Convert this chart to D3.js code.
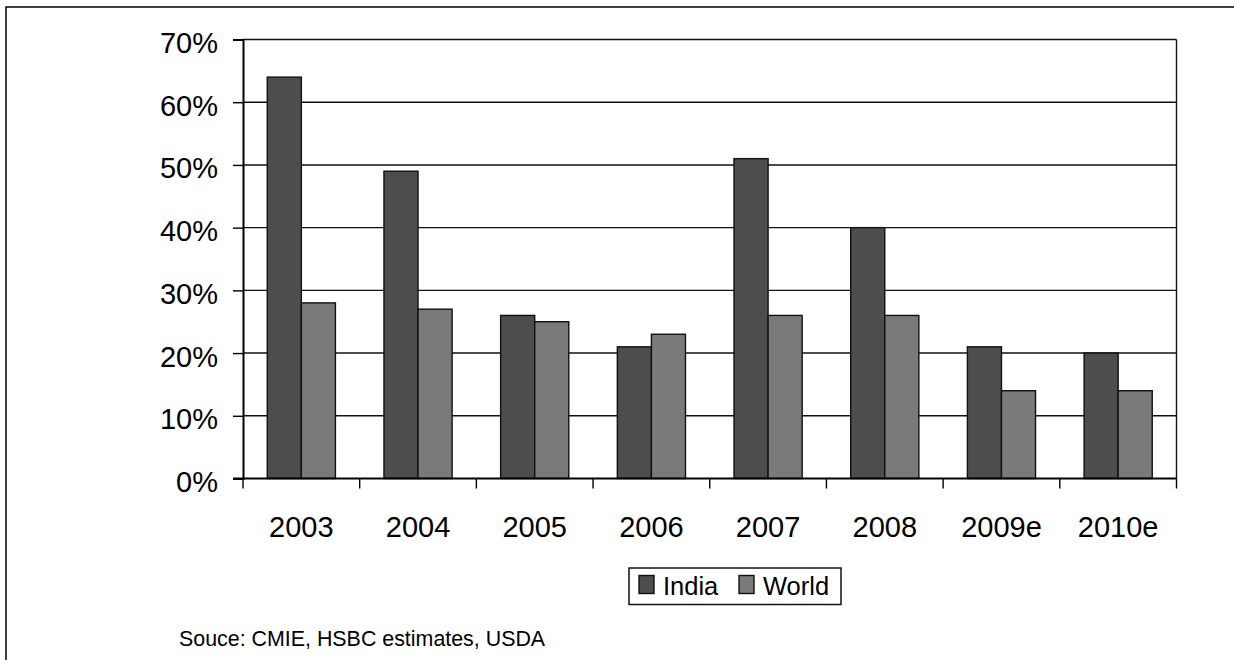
<!DOCTYPE html>
<html>
<head>
<meta charset="utf-8">
<script src="https://cdn.jsdelivr.net/npm/d3@7"></script>
<style>
  html, body { margin: 0; padding: 0; background: #fff; }
  svg { display: block; font-family: "Liberation Sans", Arial, sans-serif; }
</style>
</head>
<body>
<svg id="chart" width="1234" height="660"></svg>
<script>
// Growth figures (%) by year
const years = ["2003", "2004", "2005", "2006", "2007", "2008", "2009e", "2010e"];
const india = [64, 49, 26, 21, 51, 40, 21, 20];
const world = [28, 27, 25, 23, 26, 26, 14, 14];
const seriesNames = ["India", "World"];
const seriesColors = ["#4d4d4d", "#7a7a7a"];
const yTicks = [0, 10, 20, 30, 40, 50, 60, 70];
const sourceNote = "Souce: CMIE, HSBC estimates, USDA";

const svg = d3.select("#chart");

// outer frame
svg.append("rect")
  .attr("x", 6).attr("y", 7)
  .attr("width", 1300).attr("height", 700)
  .attr("fill", "none").attr("stroke", "#000").attr("stroke-width", 1.5);

const plot = { left: 243, right: 1176.5, top: 39.5, bottom: 478.5 };

const x0 = d3.scaleBand().domain(years).range([plot.left, plot.right]).padding(0);
const bw = x0.bandwidth();
const gap = bw * 0.208;
const x1 = d3.scaleBand().domain(seriesNames).range([gap, bw - gap]).padding(0);
const y = d3.scaleLinear().domain([0, 70]).range([plot.bottom, plot.top]);

// horizontal gridlines
svg.append("g").selectAll("line").data(yTicks.filter(d => d > 0)).join("line")
  .attr("x1", plot.left).attr("x2", plot.right)
  .attr("y1", d => y(d)).attr("y2", d => y(d))
  .attr("stroke", "#111").attr("stroke-width", 1.4);

// right edge of plot area
svg.append("line")
  .attr("x1", plot.right).attr("x2", plot.right)
  .attr("y1", plot.top).attr("y2", plot.bottom)
  .attr("stroke", "#111").attr("stroke-width", 1.4);

// bars
const rows = years.map((yr, i) => ({ year: yr, values: [india[i], world[i]] }));
const groups = svg.append("g").selectAll("g").data(rows).join("g")
  .attr("transform", d => `translate(${x0(d.year)},0)`);
groups.selectAll("rect")
  .data(d => d.values.map((v, j) => ({ name: seriesNames[j], value: v, color: seriesColors[j] })))
  .join("rect")
  .attr("x", d => x1(d.name))
  .attr("width", x1.bandwidth())
  .attr("y", d => y(d.value))
  .attr("height", d => y(0) - y(d.value))
  .attr("fill", d => d.color)
  .attr("stroke", "#111").attr("stroke-width", 1.4);

// y axis
const yAxis = d3.axisLeft(y).tickValues(yTicks).tickSize(10).tickPadding(15)
  .tickFormat(d => d + "%");
const gy = svg.append("g").attr("transform", `translate(${plot.left},0)`).call(yAxis);
gy.select(".domain").attr("stroke", "#000").attr("stroke-width", 2);
gy.selectAll(".tick line").attr("stroke", "#000").attr("stroke-width", 1.4);
gy.selectAll(".tick text")
  .attr("font-size", 29).attr("fill", "#000")
  .attr("font-family", "Liberation Sans, Arial, sans-serif")
  .attr("dy", "0.45em");

// x axis: ticks at category boundaries
const gx = svg.append("g").attr("transform", `translate(0,${plot.bottom})`);
gx.append("line")
  .attr("x1", plot.left - 10).attr("x2", plot.right)
  .attr("stroke", "#000").attr("stroke-width", 2);
const bounds = years.map(d => x0(d)).concat([plot.right]);
gx.selectAll(".bt").data(bounds).join("line").attr("class", "bt")
  .attr("x1", d => d).attr("x2", d => d)
  .attr("y1", 0).attr("y2", 10)
  .attr("stroke", "#000").attr("stroke-width", 1.4);
gx.selectAll("text").data(years).join("text")
  .attr("x", d => x0(d) + bw / 2)
  .attr("y", 58.5)
  .attr("text-anchor", "middle")
  .attr("font-size", 29).attr("fill", "#000")
  .text(d => d);

// legend
const lg = svg.append("g").attr("transform", "translate(629,568)");
lg.append("rect").attr("width", 212).attr("height", 36.5)
  .attr("fill", "#fff").attr("stroke", "#111").attr("stroke-width", 1.5);
const legendX = [10, 110];
seriesNames.forEach((name, i) => {
  lg.append("rect")
    .attr("x", legendX[i]).attr("y", 7.5)
    .attr("width", 15).attr("height", 18)
    .attr("fill", seriesColors[i]).attr("stroke", "#111").attr("stroke-width", 1.4);
  lg.append("text")
    .attr("x", legendX[i] + 24).attr("y", 27)
    .attr("font-size", 25.5).attr("fill", "#000")
    .text(name);
});

// source note
svg.append("text")
  .attr("x", 179).attr("y", 646)
  .attr("font-size", 21.4).attr("fill", "#000")
  .text(sourceNote);
</script>
</body>
</html>
